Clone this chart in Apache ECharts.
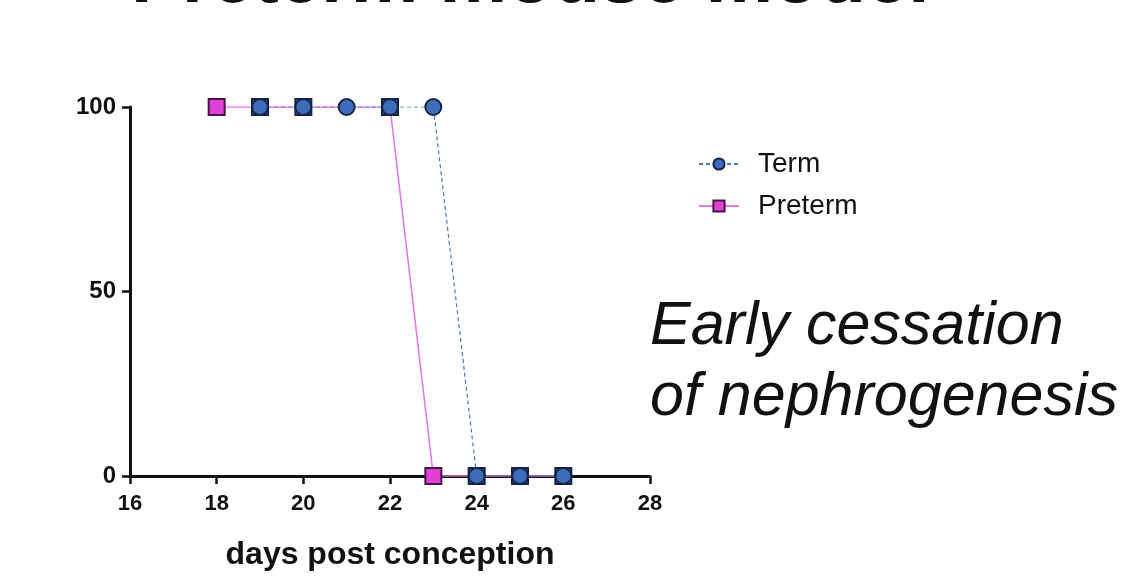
<!DOCTYPE html>
<html>
<head>
<meta charset="utf-8">
<script src="https://cdn.jsdelivr.net/npm/echarts@6/dist/echarts.min.js"></script>
<style>html,body{margin:0;padding:0;background:#fff}#c{width:1123px;height:576px}</style>
</head>
<body>
<div id="c"></div>
<script>
const termDays = [19, 20, 21, 22, 23, 24, 25, 26];
const termValues = [100, 100, 100, 100, 100, 0, 0, 0];
const pretermDays = [18, 19, 20, 22, 23, 24, 25, 26];
const pretermValues = [100, 100, 100, 100, 0, 0, 0, 0];
const xTicks = [16, 18, 20, 22, 24, 26, 28];
const yTicks = [0, 50, 100];

const termData = termDays.map((d, i) => [d, termValues[i]]);
const termKey = new Set(termData.map(p => p[0] + ':' + p[1]));
const pretermData = pretermDays.map((d, i) => {
  const overlap = termKey.has(d + ':' + pretermValues[i]);
  return overlap
    ? { value: [d, pretermValues[i]], itemStyle: { color: '#3d6db8', borderColor: '#152347' } }
    : { value: [d, pretermValues[i]] };
});

const chart = echarts.init(document.getElementById('c'));
const FONT = '"Liberation Sans", Arial, sans-serif';
chart.setOption({
  animation: false,
  textStyle: { fontFamily: FONT },
  grid: { left: 130, right: 473, top: 107, bottom: 98, containLabel: false },
  legend: {
    data: ['Term', 'Preterm'],
    orient: 'vertical',
    left: 693, top: 145,
    itemWidth: 40, itemHeight: 14, itemGap: 14,
    textStyle: { fontFamily: FONT, fontSize: 28, color: '#111', padding: [0, 0, 0, 14] }
  },
  xAxis: {
    type: 'value', min: xTicks[0], max: xTicks[xTicks.length - 1], interval: 2,
    name: 'days post conception', nameLocation: 'middle', nameGap: 63,
    nameTextStyle: { fontFamily: FONT, fontSize: 32, fontWeight: 'bold', color: '#111' },
    axisLine: { onZero: false, lineStyle: { color: '#111', width: 3 } },
    axisTick: { show: true, length: 8, lineStyle: { color: '#111', width: 2.5 } },
    axisLabel: { fontFamily: FONT, fontSize: 22, fontWeight: 'bold', color: '#111', margin: 17 },
    splitLine: { show: false }
  },
  yAxis: {
    type: 'value', min: yTicks[0], max: yTicks[yTicks.length - 1], interval: 50,
    axisLine: { show: true, onZero: false, lineStyle: { color: '#111', width: 3 } },
    axisTick: { show: true, length: 8, lineStyle: { color: '#111', width: 2.5 } },
    axisLabel: { fontFamily: FONT, fontSize: 24, fontWeight: 'bold', color: '#111', margin: 14 },
    splitLine: { show: false }
  },
  series: [
    {
      name: 'Term', type: 'line', z: 3,
      data: termData,
      symbol: 'circle', symbolSize: 16,
      lineStyle: { color: '#4a78c4', width: 1.2, type: [4, 3] },
      itemStyle: { color: '#3d6db8', borderColor: '#152347', borderWidth: 2 }
    },
    {
      name: 'Preterm', type: 'line', z: 2,
      data: pretermData,
      symbol: 'rect', symbolSize: 16,
      lineStyle: { color: '#e47ae6', width: 1.6 },
      itemStyle: { color: '#e040d6', borderColor: '#4a1448', borderWidth: 2 }
    }
  ],
  graphic: [
    {
      type: 'text', left: 131, top: -57,
      style: { text: 'Preterm mouse model', font: 'bold 76px ' + FONT, fill: '#111' }
    },
    {
      type: 'text', left: 650, top: 292,
      style: { text: 'Early cessation\nof nephrogenesis', font: 'italic 61px ' + FONT, lineHeight: 71, fill: '#111' }
    }
  ]
});
</script>
</body>
</html>
